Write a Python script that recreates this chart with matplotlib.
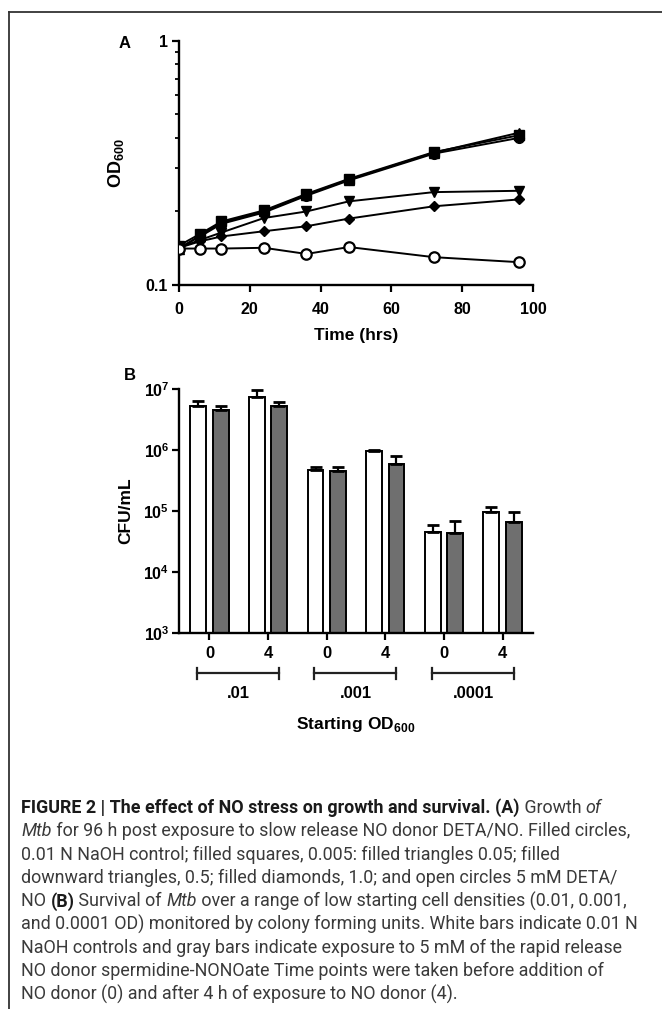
import matplotlib
matplotlib.use("Agg")
import matplotlib.pyplot as plt
import numpy as np
from matplotlib.lines import Line2D
from matplotlib import font_manager
from matplotlib.ticker import LogLocator, NullFormatter, FixedLocator, FixedFormatter
import matplotlib.transforms as mtransforms

plt.rcParams['font.family'] = ['Liberation Sans', 'DejaVu Sans']
plt.rcParams['mathtext.fontset'] = 'custom'
plt.rcParams['mathtext.rm'] = 'Liberation Sans'
plt.rcParams['mathtext.bf'] = 'Liberation Sans:bold'

# ---- panel A data: OD600 over time
hours = [0, 6, 12, 24, 36, 48, 72, 96]
od_control = [0.142, 0.158, 0.178, 0.198, 0.232, 0.268, 0.345, 0.400]
od_0005 = [0.145, 0.162, 0.182, 0.202, 0.236, 0.272, 0.350, 0.410]
od_005 = [0.140, 0.160, 0.180, 0.200, 0.234, 0.270, 0.348, 0.420]
od_05 = [0.142, 0.153, 0.164, 0.188, 0.200, 0.220, 0.240, 0.243]
od_10 = [0.142, 0.151, 0.158, 0.166, 0.174, 0.187, 0.210, 0.224]
od_5mM = [0.141, 0.141, 0.141, 0.142, 0.134, 0.143, 0.130, 0.124]

# ---- panel B data: CFU/mL
time_labels = ['0', '4', '0', '4', '0', '4']
start_od = ['.01', '.001', '.0001']
cfu_white = [5.3e6, 7.5e6, 4.7e5, 9.8e5, 4.5e4, 9.5e4]
cfu_white_top = [6.45e6, 9.6e6, 5.2e5, 1.0e6, 6.0e4, 1.17e5]
cfu_gray = [4.6e6, 5.3e6, 4.6e5, 5.9e5, 4.3e4, 6.6e4]
cfu_gray_top = [5.3e6, 6.2e6, 5.3e5, 8.1e5, 6.8e4, 9.8e4]

W, H = 662, 1009
fig = plt.figure(figsize=(W / 100, H / 100), dpi=100)

def fx(px):
    return px / W

def fy(py):
    return 1 - py / H

# frame
fig.add_artist(Line2D([fx(9), 1], [fy(11.5), fy(11.5)], color='#333333', lw=1.3))
fig.add_artist(Line2D([fx(9), fx(9)], [0, fy(11.5)], color='#333333', lw=1.3))

# ---------------- panel A
axA = fig.add_axes([fx(179), fy(285), fx(533) - fx(179), fy(40.7) - fy(285)])
lw = 1.4
ms = 7
axA.plot(hours, od_control, '-o', color='black', lw=lw, ms=ms)
axA.plot(hours, od_0005, '-s', color='black', lw=lw, ms=ms)
axA.plot(hours, od_005, '-^', color='black', lw=lw, ms=ms)
axA.plot(hours, od_05, '-v', color='black', lw=lw, ms=ms)
axA.plot(hours, od_10, '-D', color='black', lw=lw, ms=5.5)
axA.plot(hours, od_5mM, '-o', color='black', mfc='white', mew=1.6, lw=lw, ms=7.5, zorder=3)

axA.set_yscale('log')
axA.set_ylim(0.1, 1)
axA.set_xlim(0, 100)
axA.yaxis.set_major_locator(FixedLocator([0.1, 1]))
axA.yaxis.set_major_formatter(FixedFormatter(['0.1', '1']))
axA.yaxis.set_minor_locator(LogLocator(base=10, subs=np.arange(2, 10)))
axA.yaxis.set_minor_formatter(NullFormatter())
axA.set_xticks([0, 20, 40, 60, 80, 100])
for s in ['top', 'right']:
    axA.spines[s].set_visible(False)
for s in ['left', 'bottom']:
    axA.spines[s].set_linewidth(1.7)
axA.tick_params(axis='y', which='major', width=1.6, length=5, labelsize=11.5, pad=3)
axA.tick_params(axis='x', which='major', width=1.6, length=5, labelsize=11.5, pad=7)
axA.tick_params(axis='y', which='minor', width=1.3, length=3)
for lab in axA.get_xticklabels() + axA.get_yticklabels():
    lab.set_fontweight('bold')
axA.set_xlabel('Time (hrs)', fontsize=12.5, fontweight='bold')
axA.xaxis.set_label_coords(0.5, -0.175)
axA.set_ylabel(r'$\mathbf{OD}_{\mathbf{600}}$', fontsize=13)
axA.yaxis.set_label_coords(-0.15, 0.5)
fig.text(fx(125), fy(43), 'A', fontsize=12, fontweight='bold', ha='center', va='center')

# ---------------- panel B
axB = fig.add_axes([fx(179), fy(633), fx(533) - fx(179), fy(389) - fy(633)])
pos = np.arange(len(cfu_white))
bw = 0.27
off = 0.19
wv = np.array(cfu_white)
gv = np.array(cfu_gray)
axB.bar(pos - off, wv, width=bw, color='white', edgecolor='black', lw=1.4, zorder=2)
axB.bar(pos + off, gv, width=bw, color='#6f6f6f', edgecolor='black', lw=1.4, zorder=2)
axB.errorbar(pos - off, wv, yerr=[np.zeros(6), np.array(cfu_white_top) - wv], fmt='none',
             ecolor='black', elinewidth=1.6, capsize=4, capthick=2, zorder=3)
axB.errorbar(pos + off, gv, yerr=[np.zeros(6), np.array(cfu_gray_top) - gv], fmt='none',
             ecolor='black', elinewidth=1.6, capsize=4, capthick=2, zorder=3)
axB.set_yscale('log')
axB.set_ylim(1e3, 1e7)
axB.set_xlim(-0.52, 5.52)
axB.yaxis.set_major_locator(FixedLocator([1e3, 1e4, 1e5, 1e6, 1e7]))
axB.yaxis.set_major_formatter(FixedFormatter([r'$\mathbf{10^{%d}}$' % k for k in range(3, 8)]))
axB.yaxis.set_minor_locator(FixedLocator([]))
axB.set_xticks(pos)
axB.set_xticklabels(time_labels, fontweight='bold')
for s in ['top', 'right']:
    axB.spines[s].set_visible(False)
for s in ['left', 'bottom']:
    axB.spines[s].set_linewidth(1.7)
axB.tick_params(axis='y', which='major', width=1.6, length=5, labelsize=11.5, pad=2)
axB.tick_params(axis='x', which='major', width=1.6, length=5, labelsize=12, pad=4)
axB.set_ylabel('CFU/mL', fontsize=12.5, fontweight='bold')
axB.yaxis.set_label_coords(-0.13, 0.5)
fig.text(fx(130), fy(375), 'B', fontsize=12, fontweight='bold', ha='center', va='center')

# brackets grouping starting OD
trans = mtransforms.blended_transform_factory(axB.transData, axB.transAxes)
yb = -0.165
for i, lab in enumerate(start_od):
    x0, x1 = 2 * i - 0.21, 2 * i + 1 + 0.19
    axB.plot([x0, x1], [yb, yb], color='#222222', lw=1.6, transform=trans, clip_on=False)
    for xe in (x0, x1):
        axB.plot([xe, xe], [yb - 0.022, yb + 0.022], color='#222222', lw=1.6,
                 transform=trans, clip_on=False)
    axB.text(2 * i + 0.5, -0.25, lab, transform=trans, ha='center', va='center',
             fontsize=12, fontweight='bold')
axB.text(0.5, -0.375, r'$\mathbf{Starting\ OD}_{\mathbf{600}}$', transform=axB.transAxes,
         ha='center', va='center', fontsize=12.5)

# ---------------- caption
avail = {f.name for f in font_manager.fontManager.ttflist}
cap_font = 'Roboto'
for cand in ['Liberation Sans Narrow', 'Roboto', 'Liberation Sans']:
    if cand in avail:
        cap_font = cand
        break

caption = [
    [("FIGURE 2 | The effect of NO stress on growth and survival. (A)", 'bold', 'normal'),
     (" Growth ", 'normal', 'normal'), ("of", 'normal', 'italic')],
    [("Mtb", 'normal', 'italic'),
     (" for 96 h post exposure to slow release NO donor DETA/NO. Filled circles,", 'normal', 'normal')],
    [("0.01 N NaOH control; filled squares, 0.005: filled triangles 0.05; filled", 'normal', 'normal')],
    [("downward triangles, 0.5; filled diamonds, 1.0; and open circles 5 mM DETA/", 'normal', 'normal')],
    [("NO ", 'normal', 'normal'), ("(B)", 'bold', 'normal'), (" Survival of ", 'normal', 'normal'),
     ("Mtb", 'normal', 'italic'),
     (" over a range of low starting cell densities (0.01, 0.001,", 'normal', 'normal')],
    [("and 0.0001 OD) monitored by colony forming units. White bars indicate 0.01 N", 'normal', 'normal')],
    [("NaOH controls and gray bars indicate exposure to 5 mM of the rapid release", 'normal', 'normal')],
    [("NO donor spermidine-NONOate Time points were taken before addition of", 'normal', 'normal')],
    [("NO donor (0) and after 4 h of exposure to NO donor (4).", 'normal', 'normal')],
]
renderer = fig.canvas.get_renderer()

def line_width(line, size):
    total = 0
    for txt, weight, style in line:
        t = fig.text(0, 0, txt, fontsize=size, fontweight=weight, fontstyle=style,
                     family=[cap_font, 'DejaVu Sans'])
        total += t.get_window_extent(renderer).width
        t.remove()
    return total

x_left, x_right = 21, 640
widest = max(line_width(l, 10) for l in caption)
cap_size = 10 * (x_right - x_left) / widest

y0 = 808
for i, line in enumerate(caption):
    x = x_left
    for txt, weight, style in line:
        color = '#1a1a1a' if weight == 'bold' else '#3a3a3a'
        t = fig.text(fx(x), fy(y0 + i * 23.3), txt, fontsize=cap_size, fontweight=weight,
                     fontstyle=style, family=[cap_font, 'DejaVu Sans'], color=color,
                     va='center', ha='left')
        x += t.get_window_extent(renderer).width

fig.savefig('out.png', dpi=100)
